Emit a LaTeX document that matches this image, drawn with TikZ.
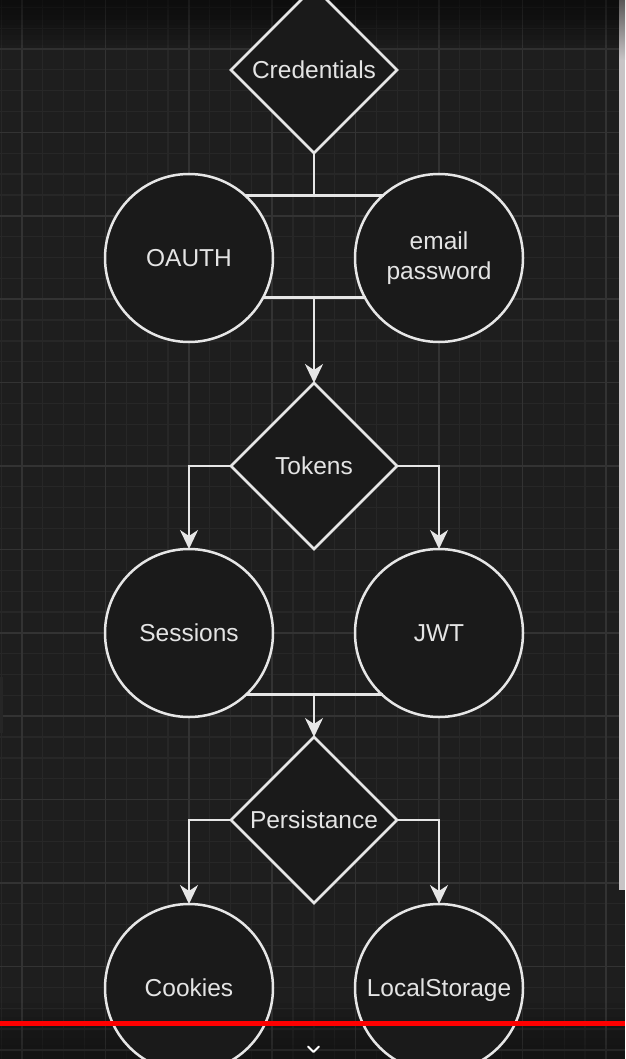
\documentclass[tikz,border=0pt]{standalone}
\usepackage{fontspec}
\setmainfont{Liberation Sans}
\usetikzlibrary{shapes.geometric,arrows.meta}
\definecolor{bgc}{HTML}{1E1E1E}
\definecolor{minorc}{HTML}{272727}
\definecolor{majorc}{HTML}{333333}
\definecolor{shapefill}{HTML}{1A1A1A}
\definecolor{linec}{HTML}{E6E6E6}
\definecolor{textc}{HTML}{E4E4E4}
\definecolor{stripc}{HTML}{C8C4C6}
\definecolor{stripd}{HTML}{5A5858}
\tikzset{
  minorgrid/.style={draw=minorc,line width=1.2pt},
  majorgrid/.style={draw=majorc,line width=1.6pt},
  roundnode/.style={circle,draw=linec,line width=2.5pt,fill=shapefill,minimum size=168pt,inner sep=0pt,outer sep=0pt,text=textc,font=\fontsize{24.5}{30}\selectfont,align=center},
  decision/.style={diamond,draw=linec,line width=2.5pt,fill=shapefill,minimum width=166pt,minimum height=166pt,inner sep=0pt,outer sep=0pt,text=textc,font=\fontsize{24.5}{30}\selectfont},
  conn/.style={draw=linec,line width=2.5pt},
  arr/.style={conn,-{Stealth[length=19pt,width=18pt,inset=6pt]}},
}
\begin{document}
\begin{tikzpicture}[x=1pt,y=-1pt]
\useasboundingbox (0,0) rectangle (625,1059);
\clip (0,0) rectangle (625,1059);
\fill[bgc] (0,0) rectangle (625,1059);
% grid
\foreach \i in {0,...,30} {\draw[minorgrid] ({1.15+20.85*\i},0) -- ({1.15+20.85*\i},1059);}
\foreach \i in {0,...,51} {\draw[minorgrid] (0,{7.3+20.85*\i}) -- (625,{7.3+20.85*\i});}
\foreach \i in {0,...,7} {\draw[majorgrid] ({22+83.4*\i},0) -- ({22+83.4*\i},1059);}
\foreach \i in {0,...,12} {\draw[majorgrid] (0,{49+83.4*\i}) -- (625,{49+83.4*\i});}
% top and bottom darkening
\foreach \i in {1,...,10} {\fill[black,opacity=0.06] (0,0) rectangle (625,{5*\i});}
\foreach \i in {1,...,8} {\fill[black,opacity=0.04] (0,{1059-7*\i}) rectangle (625,1059);}
% nodes
\node[decision] (cred) at (314,70) {Credentials};
\node[roundnode] (oauth) at (189,258) {OAUTH};
\node[roundnode] (email) at (439,258) {email\\password};
\node[decision] (tok) at (314,466) {Tokens};
\node[roundnode] (sess) at (189,633) {Sessions};
\node[roundnode] (jwt) at (439,633) {JWT};
\node[decision] (pers) at (314,820) {Persistance};
\node[roundnode] (cook) at (189,988) {Cookies};
\node[roundnode,text depth=0pt] (ls) at (439,988) {LocalStorage};
% connectors
\draw[conn] (oauth.48.6) -- (email.131.4 |- oauth.48.6);
\draw[conn] (cred.south) -- (cred.south |- oauth.48.6);
\draw[conn] (oauth.-28.4) -- (email.-151.6 |- oauth.-28.4);
\draw[arr] (tok.north |- oauth.-28.4) -- (tok.north);
\draw[arr] (tok.west) -| (sess.north);
\draw[arr] (tok.east) -| (jwt.north);
\draw[conn] (sess.-47.6) -- (jwt.-132.4 |- sess.-47.6);
\draw[arr] (pers.north |- sess.-47.6) -- (pers.north);
\draw[arr] (pers.west) -| (cook.north);
\draw[arr] (pers.east) -| (ls.north);
% video overlay elements
\shade[top color=stripd,bottom color=stripc] (619,0) rectangle (625,60);
\fill[stripc] (619,60) rectangle (625,890);
\fill[black!85] (0,677) rectangle (2.5,733);
\fill[red] (0,1021) rectangle (625,1026);
\draw[white,line width=2pt,line cap=round,line join=round] (308,1046.5) -- (313.5,1052) -- (319,1046.5);
\end{tikzpicture}
\end{document}
